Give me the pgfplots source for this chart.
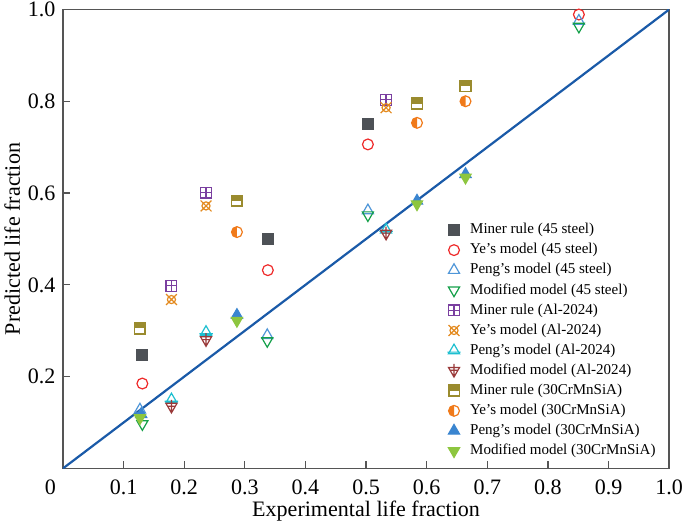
\documentclass[border=0pt]{standalone}
\usepackage{fontspec}
\setmainfont{Liberation Serif}
\usepackage{pgfplots}
\pgfplotsset{compat=1.18}

\definecolor{cMinerS}{HTML}{4D5156}
\definecolor{cYeS}{HTML}{EE2A2A}
\definecolor{cPengS}{HTML}{4F96D8}
\definecolor{cModS}{HTML}{14A049}
\definecolor{cMinerA}{HTML}{7A3FA0}
\definecolor{cYeA}{HTML}{E38A1F}
\definecolor{cPengA}{HTML}{1EBFD0}
\definecolor{cModA}{HTML}{9A3A3A}
\definecolor{cMinerC}{HTML}{9A8B2E}
\definecolor{cYeC}{HTML}{F07A1A}
\definecolor{cPengC}{HTML}{3A85D0}
\definecolor{cModC}{HTML}{8DC63F}
\definecolor{cDiag}{HTML}{1A5AA8}
\definecolor{cFrame}{HTML}{555555}

% custom marks
\pgfdeclareplotmark{sqplus}{%
  \pgfpathrectangle{\pgfqpoint{-\pgfplotmarksize}{-\pgfplotmarksize}}{\pgfqpoint{2\pgfplotmarksize}{2\pgfplotmarksize}}%
  \pgfpathmoveto{\pgfqpoint{-\pgfplotmarksize}{0pt}}\pgfpathlineto{\pgfqpoint{\pgfplotmarksize}{0pt}}%
  \pgfpathmoveto{\pgfqpoint{0pt}{-\pgfplotmarksize}}\pgfpathlineto{\pgfqpoint{0pt}{\pgfplotmarksize}}%
  \pgfusepathqstroke}
\pgfdeclareplotmark{circx}{%
  \pgfpathcircle{\pgfpointorigin}{0.75\pgfplotmarksize}%
  \pgfpathmoveto{\pgfqpoint{-\pgfplotmarksize}{-\pgfplotmarksize}}\pgfpathlineto{\pgfqpoint{\pgfplotmarksize}{\pgfplotmarksize}}%
  \pgfpathmoveto{\pgfqpoint{-\pgfplotmarksize}{\pgfplotmarksize}}\pgfpathlineto{\pgfqpoint{\pgfplotmarksize}{-\pgfplotmarksize}}%
  \pgfusepathqstroke}
\pgfdeclareplotmark{tribar}{%
  \pgfpathmoveto{\pgfqpoint{0pt}{\pgfplotmarksize}}%
  \pgfpathlineto{\pgfqpoint{-0.866\pgfplotmarksize}{-0.5\pgfplotmarksize}}%
  \pgfpathlineto{\pgfqpoint{0.866\pgfplotmarksize}{-0.5\pgfplotmarksize}}%
  \pgfpathclose
  \pgfpathmoveto{\pgfqpoint{-1.05\pgfplotmarksize}{-0.25\pgfplotmarksize}}\pgfpathlineto{\pgfqpoint{1.05\pgfplotmarksize}{-0.25\pgfplotmarksize}}%
  \pgfusepathqstroke}
\pgfdeclareplotmark{dtribar}{%
  \pgfpathmoveto{\pgfqpoint{0pt}{-\pgfplotmarksize}}%
  \pgfpathlineto{\pgfqpoint{-0.866\pgfplotmarksize}{0.5\pgfplotmarksize}}%
  \pgfpathlineto{\pgfqpoint{0.866\pgfplotmarksize}{0.5\pgfplotmarksize}}%
  \pgfpathclose
  \pgfpathmoveto{\pgfqpoint{0pt}{1.05\pgfplotmarksize}}\pgfpathlineto{\pgfqpoint{0pt}{-\pgfplotmarksize}}%
  \pgfpathmoveto{\pgfqpoint{-0.6\pgfplotmarksize}{0.05\pgfplotmarksize}}\pgfpathlineto{\pgfqpoint{0.6\pgfplotmarksize}{0.05\pgfplotmarksize}}%
  \pgfusepathqstroke}
\pgfdeclareplotmark{halfsq}{%
  \pgfpathrectangle{\pgfqpoint{-\pgfplotmarksize}{0pt}}{\pgfqpoint{2\pgfplotmarksize}{\pgfplotmarksize}}%
  \pgfusepathqfill
  \pgfpathrectangle{\pgfqpoint{-\pgfplotmarksize}{-\pgfplotmarksize}}{\pgfqpoint{2\pgfplotmarksize}{2\pgfplotmarksize}}%
  \pgfusepathqstroke}
\pgfdeclareplotmark{halfcirc}{%
  \pgfpathmoveto{\pgfqpoint{0pt}{\pgfplotmarksize}}%
  \pgfpatharc{90}{270}{\pgfplotmarksize}%
  \pgfpathclose
  \pgfusepathqfill
  \pgfpathcircle{\pgfpointorigin}{\pgfplotmarksize}%
  \pgfusepathqstroke}

\begin{document}
\begin{tikzpicture}
\begin{axis}[
  scale only axis,
  width=302.5pt, height=229pt,
  xmin=0, xmax=1, ymin=0, ymax=1,
  axis line style={cFrame, line width=0.8pt},
  tick style={cFrame, line width=0.6pt},
  tick align=inside,
  major tick length=3.5pt,
  xtick pos=bottom, ytick pos=left,
  xtick={0,0.1,0.2,0.3,0.4,0.5,0.6,0.7,0.8,0.9,1.0},
  xticklabels={\makebox[0pt][r]{0\hspace{3.5pt}},0.1,0.2,0.3,0.4,0.5,0.6,0.7,0.8,0.9,1.0},
  ytick={0.2,0.4,0.6,0.8,1.0},
  yticklabels={0.2,0.4,0.6,0.8,1.0},
  ticklabel style={font=\fontsize{11}{13}\selectfont, inner sep=1pt},
  xticklabel style={yshift=-4.7pt},
  yticklabel style={xshift=-2.5pt},
  /pgf/number format/assume math mode=true,
  xlabel={Experimental life fraction},
  ylabel={Predicted life fraction},
  label style={font=\fontsize{11}{13}\selectfont},
  xlabel style={yshift=1.5pt},
  ylabel style={inner sep=2.2pt, yshift=0.5pt},
  legend style={at={(rel axis cs:0.629,0.548)}, anchor=north west, draw=none, fill=none,
    font=\fontsize{7.5}{9}\selectfont, row sep=-0.7pt, inner sep=1pt},
  legend cell align=left,
  legend image code/.code={\path (-3.2pt,0pt) (5.6pt,0pt); \draw[#1] plot coordinates {(0pt,0pt)};},
  every axis plot/.append style={only marks, mark size=2.7pt, line width=0.6pt},
]
% 45 steel
\addplot[mark=square*, color=cMinerS] coordinates {(0.131,0.247)(0.338,0.500)(0.503,0.751)};
\addlegendentry{Miner rule (45 steel)}
\addplot[mark=o, color=cYeS] coordinates {(0.131,0.185)(0.338,0.432)(0.503,0.706)(0.851,0.989)};
\addlegendentry{Ye's model (45 steel)}
\addplot[mark=triangle, color=cPengS, mark size=3.2pt] coordinates {(0.127,0.128)(0.337,0.290)(0.503,0.562)(0.851,0.975)};
\addlegendentry{Peng's model (45 steel)}
\addplot[mark=triangle, mark options={rotate=180}, color=cModS, mark size=3.2pt] coordinates {(0.131,0.097)(0.337,0.278)(0.503,0.552)(0.851,0.963)};
\addlegendentry{Modified model (45 steel)}
% Al-2024
\addplot[mark=sqplus, color=cMinerA] coordinates {(0.179,0.398)(0.236,0.601)(0.533,0.803)};
\addlegendentry{Miner rule (Al-2024)}
\addplot[mark=circx, color=cYeA] coordinates {(0.179,0.368)(0.236,0.572)(0.533,0.786)};
\addlegendentry{Ye's model (Al-2024)}
\addplot[mark=tribar, color=cPengA, mark size=3.2pt] coordinates {(0.179,0.150)(0.236,0.297)(0.533,0.520)};
\addlegendentry{Peng's model (Al-2024)}
\addplot[mark=dtribar, color=cModA, mark size=3.2pt] coordinates {(0.179,0.135)(0.236,0.280)(0.533,0.512)};
\addlegendentry{Modified model (Al-2024)}
% 30CrMnSiA
\addplot[mark=halfsq, color=cMinerC, line width=0.9pt] coordinates {(0.127,0.305)(0.287,0.583)(0.584,0.795)(0.664,0.833)};
\addlegendentry{Miner rule (30CrMnSiA)}
\addplot[mark=halfcirc, color=cYeC] coordinates {(0.287,0.515)(0.584,0.753)(0.664,0.800)};
\addlegendentry{Ye's model (30CrMnSiA)}
\addplot[mark=triangle*, color=cPengC, mark size=3.2pt] coordinates {(0.129,0.118)(0.287,0.334)(0.584,0.583)(0.664,0.641)};
\addlegendentry{Peng's model (30CrMnSiA)}
\addplot[mark=triangle*, mark options={rotate=180}, color=cModC, mark size=3.2pt] coordinates {(0.127,0.110)(0.287,0.322)(0.584,0.576)(0.664,0.634)};
\addlegendentry{Modified model (30CrMnSiA)}
% diagonal
\addplot[sharp plot, mark=none, draw=cDiag, line width=1.1pt, forget plot] coordinates {(0,0)(1,1)};
\end{axis}
\end{tikzpicture}
\end{document}
